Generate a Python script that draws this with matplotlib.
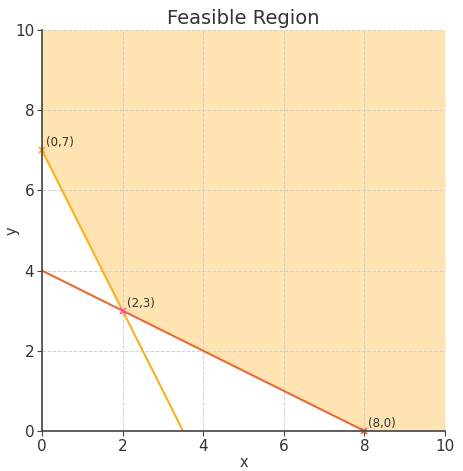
import matplotlib
matplotlib.use("Agg")
import matplotlib.pyplot as plt
import numpy as np

# constraints: 2x + y >= 7 and x + 2y >= 8
xs = np.linspace(0, 10, 401)
line1 = 7 - 2 * xs          # 2x + y = 7
line2 = (8 - xs) / 2        # x + 2y = 8
vert_x = [0, 2, 8]
vert_y = [7, 3, 0]
vert_lbl = ['(0,7)', '(2,3)', '(8,0)']
vert_col = ['#f5a623', '#ff4fa0', '#e8603c']

fig = plt.figure(figsize=(4.64, 4.71), dpi=100)
ax = fig.add_axes([42/464, 40/471, 403/464, 401/471])

lower = np.maximum(np.maximum(line1, line2), 0)
ax.fill_between(xs, lower, 10, color='orange', alpha=0.3, linewidth=0)
ax.plot(xs, line1, color='#f7b21b', lw=1.5)
ax.plot(xs, line2, color='#ea6a35', lw=1.5)

for x, y, t, c in zip(vert_x, vert_y, vert_lbl, vert_col):
    ax.plot(x, y, marker='x', color=c, ms=5, mew=1.2, clip_on=False)
    ax.text(x + 0.1, y + 0.1, t, fontsize=8.5, color='#333333')

ax.set_xlim(0, 10)
ax.set_ylim(0, 10)
ax.set_xticks([0, 2, 4, 6, 8, 10])
ax.set_yticks([0, 2, 4, 6, 8, 10])
ax.grid(True, linestyle='--', color='#d0d0d0', linewidth=0.7)
for s in ['top', 'right']:
    ax.spines[s].set_visible(False)
for s in ['left', 'bottom']:
    ax.spines[s].set_color('#444444')
    ax.spines[s].set_linewidth(1.2)
ax.tick_params(colors='#444444', labelsize=11, labelcolor='#333333', pad=2)
ax.set_xlabel('x', fontsize=10.5, color='#333333', labelpad=1)
ax.set_ylabel('y', fontsize=10.5, color='#333333')
ax.yaxis.set_label_coords(-0.055, 0.5)
ax.set_title('Feasible Region', fontsize=14, color='#333333', pad=4)

fig.savefig('out.png', dpi=100)
